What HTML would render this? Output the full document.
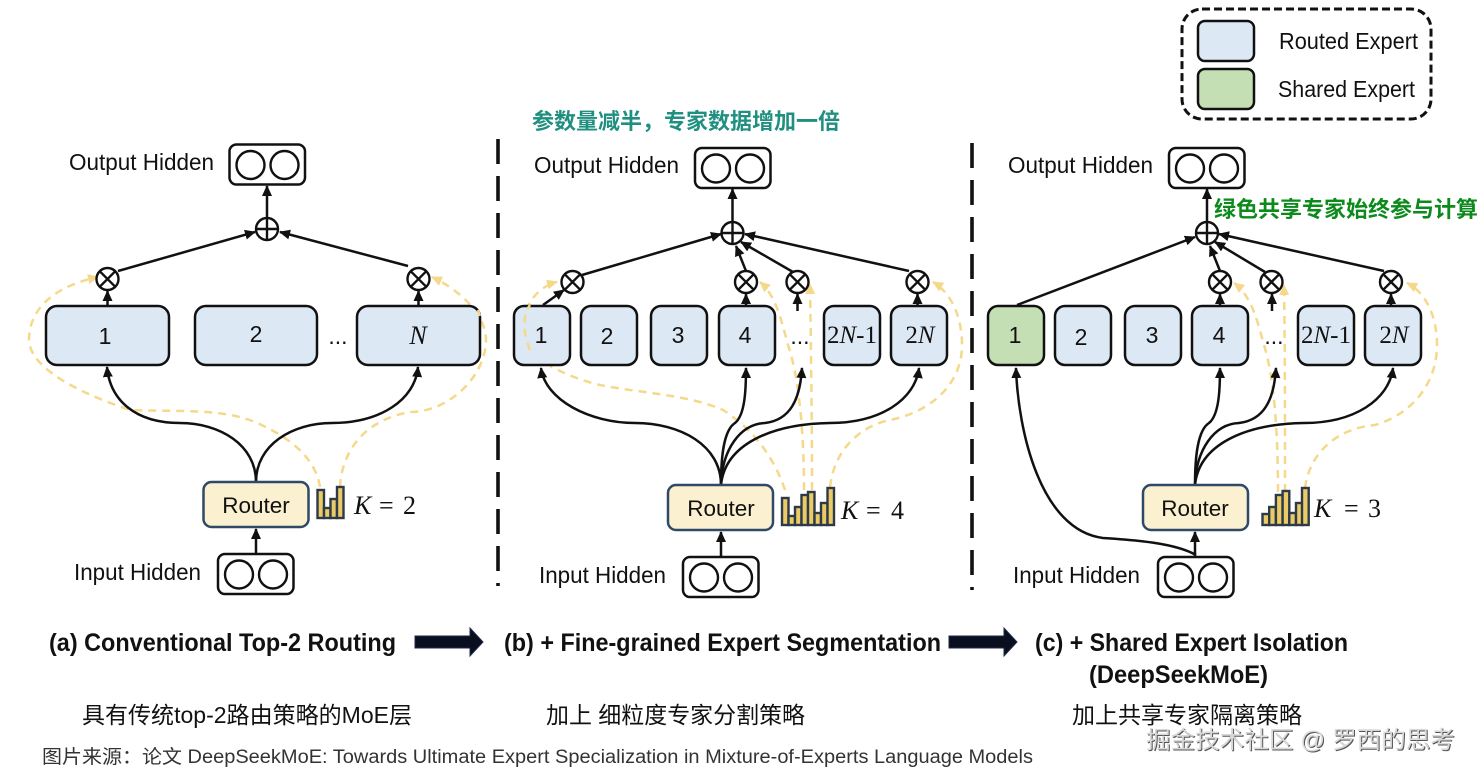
<!DOCTYPE html>
<html><head><meta charset="utf-8">
<style>
html,body{margin:0;padding:0;background:#fff}
svg{display:block}
text{font-family:"Liberation Sans","Noto Sans CJK SC",sans-serif;fill:#111}
.lab{font-size:23px}
.num{font-size:23px;text-anchor:middle}
.r{font-size:22.500px;text-anchor:middle}
.k{font-family:"Liberation Serif",serif;font-size:26px}
.k2{font-family:"Liberation Serif",serif;font-size:25px;text-anchor:middle}
.ital{font-family:"Liberation Serif",serif;font-style:italic}
.title{font-size:25px;font-weight:bold}
.zh{font-size:23px}
.b{fill:none;stroke:#111;stroke-width:2.500}
.y{fill:none;stroke:#f5d98a;stroke-width:2.500;stroke-dasharray:8 6}
.box{fill:#dde8f5;stroke:#111;stroke-width:2.500}
.grn{fill:#c5dfb5;stroke:#111;stroke-width:2.500}
.rt{fill:#fbf0cf;stroke:#2f4a66;stroke-width:2.500}
.pill{fill:#fff;stroke:#111;stroke-width:2.500}
.c{fill:#fff;stroke:#111;stroke-width:2.400}
.bar{fill:#eccb67;stroke:#2c3a4a;stroke-width:2.400}
.dv{stroke:#111;stroke-width:3.600;stroke-dasharray:25 12;fill:none}
</style></head><body>
<svg width="1478" height="777" viewBox="0 0 1478 777" xmlns="http://www.w3.org/2000/svg">
<defs>
<marker id="a" markerUnits="userSpaceOnUse" markerWidth="12" markerHeight="12" refX="10" refY="6" orient="auto"><path d="M0 1L11 6L0 11z" fill="#111"/></marker>
<marker id="ya" markerUnits="userSpaceOnUse" markerWidth="12" markerHeight="12" refX="10" refY="6" orient="auto"><path d="M0 1L11 6L0 11z" fill="#f5d98a"/></marker>
<g id="plus"><circle r="11" class="c"/><path d="M-11 0H11M0 -11V11" stroke="#111" stroke-width="2.400"/></g>
<g id="mul"><circle r="11" class="c"/><path d="M-7.800 -7.800L7.800 7.800M-7.800 7.800L7.800 -7.800" stroke="#111" stroke-width="2.400"/></g>
<g id="pair"><rect x="0" y="0" width="75.500" height="40" rx="7" class="pill"/><circle cx="21" cy="20.500" r="14" class="c"/><circle cx="55" cy="20.500" r="14" class="c"/></g>
</defs>

<!-- legend -->
<rect x="1182" y="9" width="249" height="110" rx="20" fill="none" stroke="#111" stroke-width="3" stroke-dasharray="8 4"/>
<rect x="1198" y="21" width="56" height="40" rx="7" class="box"/>
<rect x="1198" y="69" width="56" height="40" rx="7" class="grn"/>
<text x="1279" y="49" class="lab" textLength="139" lengthAdjust="spacingAndGlyphs">Routed Expert</text>
<text x="1278" y="97" class="lab" textLength="137" lengthAdjust="spacingAndGlyphs">Shared Expert</text>

<!-- dividers -->
<line x1="498" y1="139" x2="498" y2="586" class="dv"/>
<line x1="972" y1="143" x2="972" y2="590" class="dv"/>

<!-- Panel A -->
<text x="69" y="170" class="lab" textLength="145" lengthAdjust="spacingAndGlyphs">Output Hidden</text>
<use href="#pair" x="229.500" y="144.500"/>
<text x="74" y="580" class="lab" textLength="127" lengthAdjust="spacingAndGlyphs">Input Hidden</text>
<use href="#pair" x="218" y="554"/>
<path class="y" d="M320 487C315 455 285 435 255 422C220 408 180 412 130 410C85 395 30 370 29 340C29 305 60 285 98 277" marker-end="url(#ya)"/>
<path class="y" d="M340 487C342 450 365 420 410 412C450 412 486 375 486 340C486 315 460 290 432 277" marker-end="url(#ya)"/>
<path class="b" d="M256 482C256 445 220 423 180 423C135 423 110 400 107 367" marker-end="url(#a)"/>
<path class="b" d="M256 482C256 445 292 423 332 423C380 423 415 400 418 367" marker-end="url(#a)"/>
<rect x="46" y="306" width="123" height="59" rx="11" class="box"/>
<rect x="195" y="306" width="122" height="59" rx="11" class="box"/>
<rect x="357" y="306" width="123" height="59" rx="11" class="box"/>
<path class="y" d="M478 310L480 316"/>
<text x="105" y="344" class="num">1</text><text x="256" y="342" class="num">2</text>
<text x="418" y="344" class="num ital" style="font-size:26px">N</text>
<text x="338" y="344" class="num">...</text>
<line x1="107.500" y1="306" x2="107.500" y2="291" class="b" marker-end="url(#a)"/>
<line x1="418.500" y1="306" x2="418.500" y2="291" class="b" marker-end="url(#a)"/>
<line x1="118" y1="271" x2="255" y2="232" class="b" marker-end="url(#a)"/>
<line x1="408" y1="266" x2="280" y2="232" class="b" marker-end="url(#a)"/>
<line x1="267" y1="218" x2="267" y2="186" class="b" marker-end="url(#a)"/>
<use href="#mul" x="107.500" y="279"/><use href="#mul" x="418.500" y="279"/>
<use href="#plus" x="267" y="229"/>
<line x1="256" y1="554" x2="256" y2="529" class="b" marker-end="url(#a)"/>
<rect x="203.500" y="482" width="105" height="45" rx="8" class="rt"/>
<text x="256" y="513" class="r">Router</text>
<g class="bar"><rect x="317.500" y="490" width="6.500" height="28"/><rect x="324" y="508" width="6.500" height="10"/><rect x="330.500" y="499" width="6.500" height="19"/><rect x="337" y="487" width="6.500" height="31"/></g>
<text y="514" class="k"><tspan x="354" class="ital">K</tspan><tspan x="379">=</tspan><tspan x="403">2</tspan></text>

<!-- Panel B -->
<text x="532" y="129" style="font-size:22px;font-weight:bold;fill:#1f8f80">参数量减半，专家数据增加一倍</text>
<text x="534" y="173" class="lab" textLength="145" lengthAdjust="spacingAndGlyphs">Output Hidden</text>
<use href="#pair" x="695" y="148"/>
<text x="539" y="583" class="lab" textLength="127" lengthAdjust="spacingAndGlyphs">Input Hidden</text>
<use href="#pair" x="683" y="557"/>
<path class="y" d="M785 490C775 460 755 430 723 410C690 395 640 393 600 385C570 378 540 363 530 350C515 330 525 290 557 282" marker-end="url(#ya)"/>
<path class="y" d="M804 490C804 440 800 380 788 345C780 315 775 295 760 282" marker-end="url(#ya)"/>
<path class="y" d="M812 490C812 420 811 350 810 284" marker-end="url(#ya)"/>
<path class="y" d="M830 487C835 445 865 425 890 420C930 412 962 385 962 345C962 315 950 292 933 282" marker-end="url(#ya)"/>
<path class="b" d="M721 485C721 445 680 423 635 423C590 423 545 400 541 368" marker-end="url(#a)"/>
<path class="b" d="M721 485C721 455 724 430 735 423C745 415 746 390 746 368" marker-end="url(#a)"/>
<path class="b" d="M721 485C722 450 740 424 765 423C790 420 800 400 802 368" marker-end="url(#a)"/>
<path class="b" d="M721 485C725 445 770 424 830 423C880 423 915 400 919 368" marker-end="url(#a)"/>
<g class="box"><rect x="514" y="306" width="56" height="59" rx="10"/><rect x="581" y="306" width="56" height="59" rx="10"/><rect x="651" y="306" width="56" height="59" rx="10"/><rect x="719" y="306" width="56" height="59" rx="10"/><rect x="824" y="306" width="56" height="59" rx="10"/><rect x="891" y="306" width="56" height="59" rx="10"/></g>
<path class="y" d="M530 350C522 330 523 315 530 305"/>
<text x="541" y="343" class="num">1</text><text x="607" y="344" class="num">2</text><text x="678" y="343" class="num">3</text><text x="745" y="343" class="num">4</text><text x="800" y="344" class="num">...</text>
<text x="852" y="343" class="k2">2<tspan class="ital">N</tspan>-1</text>
<text x="920" y="343" class="k2">2<tspan class="ital">N</tspan></text>
<line x1="543" y1="305" x2="564" y2="290" class="b" marker-end="url(#a)"/>
<line x1="746" y1="306" x2="746" y2="294" class="b" marker-end="url(#a)"/>
<line x1="797.500" y1="311" x2="797.500" y2="294" class="b" marker-end="url(#a)"/>
<line x1="917.500" y1="306" x2="917.500" y2="294" class="b" marker-end="url(#a)"/>
<line x1="582" y1="275" x2="721" y2="234" class="b" marker-end="url(#a)"/>
<line x1="746" y1="271" x2="736" y2="246" class="b" marker-end="url(#a)"/>
<line x1="793" y1="272" x2="741" y2="242" class="b" marker-end="url(#a)"/>
<line x1="909" y1="271" x2="745" y2="234" class="b" marker-end="url(#a)"/>
<line x1="732.500" y1="222" x2="732.500" y2="189" class="b" marker-end="url(#a)"/>
<use href="#mul" x="572.500" y="282"/><use href="#mul" x="746" y="282"/><use href="#mul" x="797.500" y="282"/><use href="#mul" x="917.500" y="282"/>
<use href="#plus" x="732.500" y="233"/>
<line x1="721" y1="557" x2="721" y2="532" class="b" marker-end="url(#a)"/>
<rect x="668" y="485" width="105" height="45" rx="8" class="rt"/>
<text x="721" y="516" class="r">Router</text>
<g class="bar"><rect x="782" y="498" width="6.500" height="27"/><rect x="788.500" y="516" width="6.500" height="9"/><rect x="795" y="507" width="6.500" height="18"/><rect x="801.500" y="495" width="6.500" height="30"/><rect x="808" y="492" width="6.500" height="33"/><rect x="814.500" y="513" width="6.500" height="12"/><rect x="821" y="503" width="6.500" height="22"/><rect x="827.500" y="488" width="6.500" height="37"/></g>
<text y="519" class="k"><tspan x="841" class="ital">K</tspan><tspan x="866">=</tspan><tspan x="891">4</tspan></text>

<!-- Panel C -->
<text x="1214" y="217" style="font-size:22px;font-weight:bold;fill:#0d8a1c">绿色共享专家始终参与计算</text>
<text x="1008" y="173" class="lab" textLength="145" lengthAdjust="spacingAndGlyphs">Output Hidden</text>
<use href="#pair" x="1169" y="148"/>
<text x="1013" y="583" class="lab" textLength="127" lengthAdjust="spacingAndGlyphs">Input Hidden</text>
<use href="#pair" x="1158" y="557"/>
<path class="y" d="M1278 492C1278 440 1275 380 1264 345C1256 315 1250 295 1234 283" marker-end="url(#ya)"/>
<path class="y" d="M1285 492C1285 420 1285 350 1284 285" marker-end="url(#ya)"/>
<path class="y" d="M1305 488C1310 450 1340 428 1375 425C1410 415 1437 385 1437 345C1437 315 1425 292 1407 283" marker-end="url(#ya)"/>
<path class="b" d="M1196 555C1175 543 1135 540 1103 538C1040 530 1018 430 1016 368" marker-end="url(#a)"/>
<path class="b" d="M1195 485C1195 455 1198 430 1209 423C1219 415 1220 390 1220 368" marker-end="url(#a)"/>
<path class="b" d="M1195 485C1196 450 1214 424 1239 423C1264 420 1274 400 1276 368" marker-end="url(#a)"/>
<path class="b" d="M1195 485C1199 445 1244 424 1304 423C1354 423 1389 400 1393 368" marker-end="url(#a)"/>
<rect x="988" y="306" width="56" height="59" rx="10" class="grn"/>
<g class="box"><rect x="1055" y="306" width="56" height="59" rx="10"/><rect x="1125" y="306" width="56" height="59" rx="10"/><rect x="1192" y="306" width="56" height="59" rx="10"/><rect x="1298" y="306" width="56" height="59" rx="10"/><rect x="1365" y="306" width="56" height="59" rx="10"/></g>
<text x="1015" y="343" class="num">1</text><text x="1081" y="345" class="num">2</text><text x="1152" y="343" class="num">3</text><text x="1219" y="343" class="num">4</text><text x="1274" y="344" class="num">...</text>
<text x="1326" y="343" class="k2">2<tspan class="ital">N</tspan>-1</text>
<text x="1394" y="343" class="k2">2<tspan class="ital">N</tspan></text>
<line x1="1220" y1="306" x2="1220" y2="294" class="b" marker-end="url(#a)"/>
<line x1="1272" y1="311" x2="1272" y2="294" class="b" marker-end="url(#a)"/>
<line x1="1391" y1="306" x2="1391" y2="294" class="b" marker-end="url(#a)"/>
<line x1="1017" y1="305" x2="1195" y2="237" class="b" marker-end="url(#a)"/>
<line x1="1220" y1="271" x2="1210" y2="246" class="b" marker-end="url(#a)"/>
<line x1="1265" y1="272" x2="1215" y2="242" class="b" marker-end="url(#a)"/>
<line x1="1384" y1="271" x2="1219" y2="234" class="b" marker-end="url(#a)"/>
<line x1="1207" y1="222" x2="1207" y2="189" class="b" marker-end="url(#a)"/>
<use href="#mul" x="1220" y="282"/><use href="#mul" x="1271.500" y="282"/><use href="#mul" x="1391" y="282"/>
<use href="#plus" x="1207" y="233"/>
<line x1="1195" y1="557" x2="1195" y2="532" class="b" marker-end="url(#a)"/>
<rect x="1143" y="485" width="105" height="45" rx="8" class="rt"/>
<text x="1195" y="516" class="r">Router</text>
<g class="bar"><rect x="1262.500" y="514" width="6.700" height="11"/><rect x="1269.200" y="507" width="6.700" height="18"/><rect x="1275.900" y="495" width="6.700" height="30"/><rect x="1282.600" y="491" width="6.700" height="34"/><rect x="1289.300" y="513" width="6.700" height="12"/><rect x="1296" y="503" width="6.700" height="22"/><rect x="1302" y="488" width="6.700" height="37"/></g>
<text y="517" class="k"><tspan x="1314" class="ital">K</tspan><tspan x="1344">=</tspan><tspan x="1368">3</tspan></text>

<!-- big arrows -->
<path d="M415 636H470V628L483 642L470 656V648H415z" fill="#0a0f20" stroke="#1f2a44"/>
<path d="M949 636H1004V628L1017 642L1004 656V648H949z" fill="#0a0f20" stroke="#1f2a44"/>

<!-- captions -->
<text x="49" y="651" class="title" textLength="347" lengthAdjust="spacingAndGlyphs">(a) Conventional Top-2 Routing</text>
<text x="504" y="651" class="title" textLength="437" lengthAdjust="spacingAndGlyphs">(b) + Fine-grained Expert Segmentation</text>
<text x="1035" y="651" class="title" textLength="313" lengthAdjust="spacingAndGlyphs">(c) + Shared Expert Isolation</text>
<text x="1089" y="683" class="title" textLength="179" lengthAdjust="spacingAndGlyphs">(DeepSeekMoE)</text>
<text x="82" y="723" class="zh" textLength="330" lengthAdjust="spacingAndGlyphs">具有传统top-2路由策略的MoE层</text>
<text x="546" y="723" class="zh" textLength="259" lengthAdjust="spacingAndGlyphs">加上 细粒度专家分割策略</text>
<text x="1072" y="723" class="zh" textLength="230" lengthAdjust="spacingAndGlyphs">加上共享专家隔离策略</text>
<text x="42" y="763" style="font-size:19px;fill:#333" textLength="991" lengthAdjust="spacingAndGlyphs">图片来源：论文 DeepSeekMoE: Towards Ultimate Expert Specialization in Mixture-of-Experts Language Models</text>
<text x="1147" y="749" style="font-size:24px;fill:#555" textLength="309" lengthAdjust="spacingAndGlyphs">掘金技术社区 @ 罗西的思考</text>
<text x="1146" y="748" style="font-size:24px;fill:#d8d8d8" textLength="309" lengthAdjust="spacingAndGlyphs">掘金技术社区 @ 罗西的思考</text>
</svg>
</body></html>
